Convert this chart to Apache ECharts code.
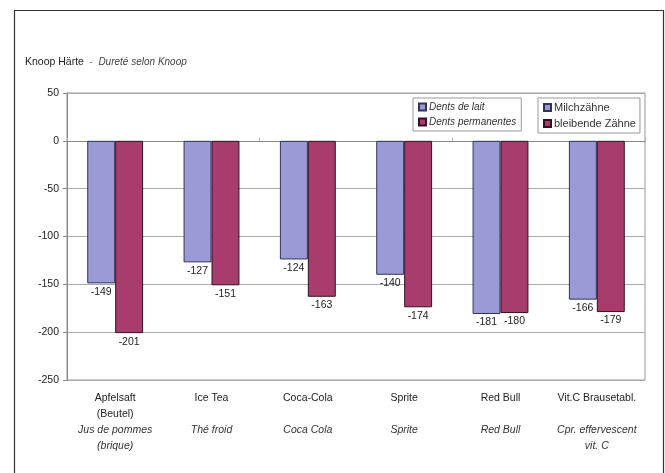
<!DOCTYPE html>
<html>
<head>
<meta charset="utf-8">
<script src="https://cdn.jsdelivr.net/npm/echarts@6/dist/echarts.min.js"></script>
<style>html,body{margin:0;padding:0;background:#fff;}#c{width:665px;height:473px;}</style>
</head>
<body>
<div id="c"></div>
<script>
var namesDe = ['Apfelsaft\n(Beutel)', 'Ice Tea\n', 'Coca-Cola\n', 'Sprite\n', 'Red Bull\n', 'Vit.C Brausetabl.\n'];
var namesFr = ['Jus de pommes\n(brique)', 'Thé froid', 'Coca Cola', 'Sprite', 'Red Bull', 'Cpr. effervescent\nvit. C'];
var milchzaehne = [-149, -127, -124, -140, -181, -166];
var bleibende = [-201, -151, -163, -174, -180, -179];
var yTicks = {min: -250, max: 50, interval: 50};
var seriesDe = ['Milchzähne', 'bleibende Zähne'];
var seriesFr = ['Dents de lait', 'Dents permanentes'];

var categories = namesDe.map(function (d, i) {
  var fr = namesFr[i].split('\n').map(function (s) { return '{i|' + s + '}'; }).join('\n');
  return d + '\n' + fr;
});

var chart = echarts.init(document.getElementById('c'));
var font = 'Liberation Sans, Arial, sans-serif';
var labelCommon = {
  show: true, position: 'bottom', distance: 3,
  fontFamily: font, fontSize: 10.5, color: '#222'
};
chart.setOption({
  animation: false,
  textStyle: {fontFamily: font},
  graphic: [{
    type: 'rect', shape: {x: 14.5, y: 10.5, width: 649, height: 480},
    style: {fill: 'none', stroke: '#333', lineWidth: 1.2}, silent: true
  }],
  title: {
    text: '{a|Knoop Härte}{b|  -  }{c|Dureté selon Knoop}',
    left: 20, top: 52,
    textStyle: {
      fontWeight: 'normal',
      rich: {
        a: {fontFamily: font, fontSize: 10.5, color: '#222', fontWeight: 'normal'},
        b: {fontFamily: font, fontSize: 10, color: '#777', fontWeight: 'normal'},
        c: {fontFamily: font, fontSize: 10, color: '#444', fontStyle: 'italic', fontWeight: 'normal'}
      }
    }
  },
  legend: [{
    left: 413, top: 98, orient: 'vertical',
    data: seriesDe,
    formatter: function (n) { return seriesFr[seriesDe.indexOf(n)]; },
    icon: 'rect', itemWidth: 7, itemHeight: 7, itemGap: 5,
    padding: [4, 5, 4, 5],
    borderColor: '#999', borderWidth: 1, backgroundColor: '#fff',
    textStyle: {fontFamily: font, fontSize: 10, fontStyle: 'italic', color: '#333', padding: [0, 0, 0, -2]}
  }, {
    left: 538, top: 98, orient: 'vertical',
    data: seriesDe,
    icon: 'rect', itemWidth: 7, itemHeight: 7, itemGap: 5,
    padding: [4, 4, 4, 5],
    borderColor: '#999', borderWidth: 1, backgroundColor: '#fff',
    textStyle: {fontFamily: font, fontSize: 11, color: '#333', width: 95, padding: [0, 0, 0, -2]}
  }],
  grid: {left: 67, right: 20, top: 93, bottom: 93, show: true, borderColor: '#999', borderWidth: 1, backgroundColor: 'transparent'},
  xAxis: [{
    type: 'category', data: categories, position: 'bottom',
    axisLine: {onZero: false, show: false},
    axisTick: {show: false},
    axisLabel: {
      interval: 0, margin: 10, fontFamily: font, fontSize: 10.5, color: '#222', lineHeight: 16,
      rich: {i: {fontFamily: font, fontSize: 10.5, fontStyle: 'italic', color: '#333', lineHeight: 16}}
    }
  }, {
    type: 'category', data: categories, position: 'top',
    axisLine: {onZero: true, show: true, lineStyle: {color: '#888', width: 1}},
    axisTick: {show: true, inside: false, length: 3, lineStyle: {color: '#aaa'}},
    axisLabel: {show: false}
  }],
  yAxis: {
    type: 'value', min: yTicks.min, max: yTicks.max, interval: yTicks.interval,
    axisLine: {show: true, lineStyle: {color: '#888'}},
    axisTick: {show: true, length: 4, lineStyle: {color: '#888'}},
    axisLabel: {fontFamily: font, fontSize: 10.5, color: '#222', margin: 8},
    splitLine: {show: true, lineStyle: {color: '#aaa', width: 1}}
  },
  series: [{
    name: seriesDe[0], type: 'bar', data: milchzaehne, xAxisIndex: 0,
    barGap: '0%', barCategoryGap: '42%',
    itemStyle: {color: '#9a9ad6', borderColor: '#333355', borderWidth: 1},
    label: labelCommon
  }, {
    name: seriesDe[1], type: 'bar', data: bleibende, xAxisIndex: 0,
    barGap: '0%', barCategoryGap: '42%',
    itemStyle: {color: '#a83d6d', borderColor: '#331122', borderWidth: 1},
    label: labelCommon
  }]
});
</script>
</body>
</html>
